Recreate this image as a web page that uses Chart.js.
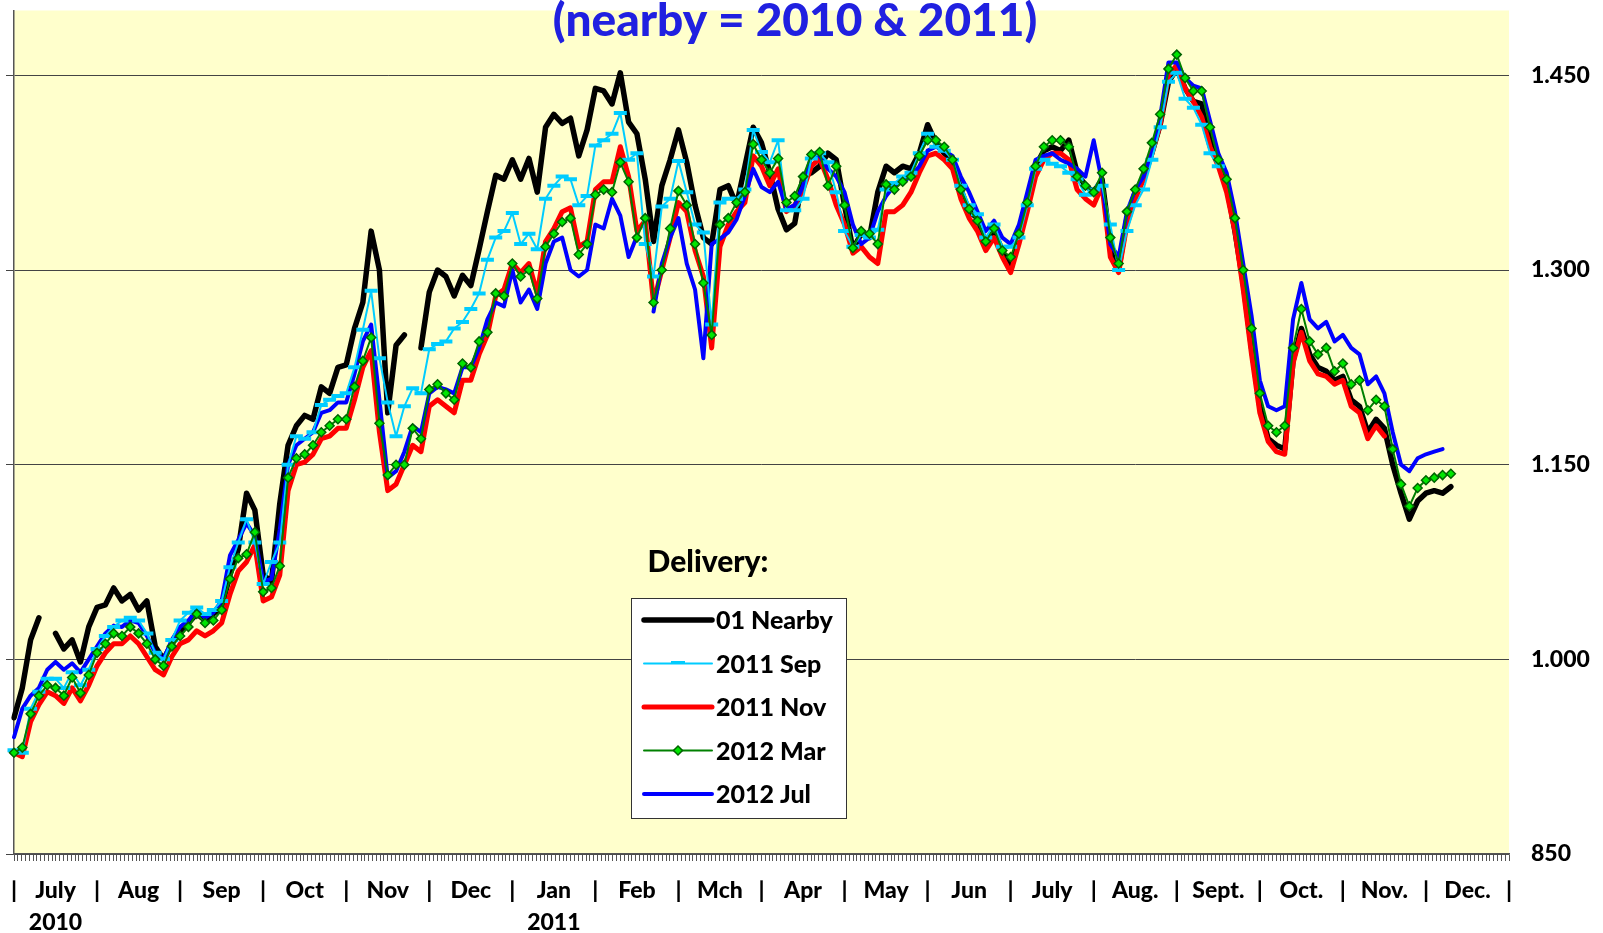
<!DOCTYPE html>
<html>
<head>
<meta charset="utf-8">
<title>nearby = 2010 &amp; 2011</title>
<script src="https://cdn.jsdelivr.net/npm/chart.js@4.4.1/dist/chart.umd.min.js"></script>
<style>
  html, body { margin: 0; padding: 0; background: #fff; }
</style>
</head>
<body>
<canvas id="chart" width="1603" height="933"></canvas>
<script>
// Month labels along the bottom (July 2010 .. Dec 2011)
const monthKeys = ['2010-07','2010-08','2010-09','2010-10','2010-11','2010-12',
                   '2011-01','2011-02','2011-03','2011-04','2011-05','2011-06',
                   '2011-07','2011-08','2011-09','2011-10','2011-11','2011-12'];
const monthLabels = ['July','Aug','Sep','Oct','Nov','Dec','Jan','Feb','Mch','Apr','May','Jun',
                     'July','Aug.','Sept.','Oct.','Nov.','Dec.'];
const yearLabels = { 0: '2010', 6: '2011' };
const stepsPerMonth = 10;   // about two trading days per category
const tradingDays = 392;    // minor tick marks under the axis

const yTicks = [850, 1000, 1150, 1300, 1450];

// series values, one per category step (null = no quote)
const nearby = [955, 978, 1015, 1032, null, 1020, 1008, 1015, 998, 1025,
  1040, 1042, 1055, 1045, 1050, 1038, 1045, 1010, 1000, 1012,
  1020, 1028, 1035, 1030, 1035, 1040, 1065, 1085, 1128, 1115,
  1065, 1060, 1120, 1165, 1180, 1188, 1185, 1210, 1205, 1225,
  1227, 1255, 1275, 1330, 1300, 1190, 1242, 1250, null, 1240,
  1283, 1300, 1295, 1280, 1296, 1288, 1316, 1345, 1373, 1370,
  1385, 1370, 1386, 1360, 1410, 1420, 1413, 1417, 1388, 1408,
  1440, 1438, 1428, 1452, 1414, 1405, 1370, 1322, 1365, 1385,
  1408, 1383, 1350, 1325, 1320, 1362, 1365, 1350, 1380, 1410,
  1398, 1375, 1347, 1331, 1336, 1372, 1375, 1380, 1390, 1385,
  1350, 1316, 1328, 1325, 1360, 1380, 1375, 1380, 1378, 1390,
  1412, 1398, 1390, 1385, 1362, 1345, 1340, 1320, 1330, 1315,
  1300, 1325, 1355, 1380, 1392, 1395, 1392, 1400, 1375, 1365,
  1360, 1370, 1320, 1300, 1340, 1360, 1370, 1390, 1412, 1445,
  1455, 1440, 1430, 1428, 1400, 1385, 1365, 1330, 1290, 1240,
  1195, 1170, 1165, 1162, 1230, 1255, 1235, 1225, 1222, 1215,
  1218, 1200, 1195, 1175, 1185, 1178, 1150, 1128, 1108, 1122,
  1128, 1130, 1128, 1133];

const sep2011 = [930, 928, 962, 975, 985, 985, 978, 990, 980, 992,
  1008, 1018, 1025, 1030, 1032, 1030, 1020, 1005, 1000, 1015,
  1030, 1036, 1040, 1035, 1038, 1045, 1071, 1090, 1108, 1090,
  1058, 1075, 1090, 1150, 1172, 1170, 1175, 1196, 1200, 1203,
  1205, 1225, 1254, 1284, 1232, 1198, 1172, 1195, 1209, 1205,
  1239, 1243, 1245, 1255, 1260, 1270, 1282, 1308, 1325, 1330,
  1344, 1320, 1328, 1316, 1355, 1365, 1372, 1370, 1350, 1357,
  1396, 1400, 1405, 1421, 1385, 1390, 1320, 1295, 1349, 1355,
  1384, 1360, 1335, 1329, 1258, 1352, 1355, 1355, 1362, 1408,
  1391, 1383, 1400, 1346, 1346, 1355, 1386, 1390, 1383, 1360,
  1330, 1318, 1327, 1325, 1331, 1362, 1367, 1372, 1375, 1390,
  1405, 1395, 1392, 1385, 1365, 1350, 1343, 1325, 1335, 1318,
  1318, 1325, 1350, 1378, 1385, 1382, 1380, 1375, 1370, 1358,
  1362, 1365, 1335, 1300, 1330, 1350, 1362, 1385, 1410, 1445,
  1452, 1432, 1425, 1412, 1390, 1380];

const nov2011 = [928, 925, 952, 965, 975, 972, 966, 978, 968, 980,
  995, 1005, 1012, 1012, 1018, 1012, 1002, 992, 988, 1002,
  1012, 1015, 1022, 1018, 1022, 1028, 1050, 1068, 1075, 1088,
  1045, 1048, 1065, 1130, 1150, 1152, 1158, 1170, 1172, 1178,
  1178, 1200, 1225, 1238, 1175, 1130, 1135, 1150, 1165, 1160,
  1195, 1200, 1195, 1190, 1215, 1215, 1235, 1250, 1280, 1285,
  1305, 1298, 1305, 1282, 1322, 1332, 1345, 1348, 1318, 1322,
  1362, 1368, 1368, 1395, 1372, 1330, 1338, 1275, 1300, 1325,
  1352, 1345, 1315, 1295, 1240, 1318, 1335, 1345, 1352, 1388,
  1380, 1365, 1378, 1345, 1350, 1362, 1380, 1386, 1370, 1350,
  1335, 1313, 1318, 1310, 1305, 1345, 1345, 1350, 1360, 1375,
  1388, 1390, 1385, 1378, 1355, 1340, 1330, 1315, 1325, 1310,
  1298, 1320, 1345, 1372, 1385, 1390, 1390, 1385, 1362, 1355,
  1350, 1365, 1310, 1298, 1335, 1355, 1370, 1390, 1412, 1450,
  1458, 1440, 1430, 1418, 1395, 1380, 1360, 1330, 1285, 1235,
  1190, 1168, 1160, 1158, 1228, 1252, 1230, 1220, 1218, 1212,
  1215, 1195, 1190, 1170, 1180, 1172];

const mar2012 = [928, 932, 958, 972, 980, 978, 972, 986, 974, 988,
  1005, 1012, 1020, 1018, 1025, 1020, 1012, 1000, 995, 1010,
  1018, 1025, 1035, 1028, 1030, 1038, 1062, 1078, 1081, 1098,
  1052, 1055, 1072, 1140, 1155, 1158, 1165, 1175, 1180, 1185,
  1185, 1210, 1230, 1248, 1182, 1142, 1150, 1150, 1178, 1170,
  1208, 1212, 1205, 1200, 1228, 1225, 1245, 1252, 1282, 1280,
  1305, 1295, 1300, 1278, 1318, 1328, 1337, 1340, 1312, 1320,
  1358, 1362, 1360, 1383, 1368, 1325, 1340, 1275, 1300, 1332,
  1361, 1350, 1320, 1290, 1250, 1335, 1340, 1352, 1360, 1397,
  1385, 1375, 1386, 1352, 1357, 1372, 1389, 1391, 1365, 1380,
  1350, 1317, 1330, 1328, 1320, 1366, 1362, 1368, 1372, 1388,
  1400, 1400, 1395, 1385, 1362, 1347, 1338, 1322, 1332, 1315,
  1310, 1328, 1352, 1380, 1395, 1400, 1400, 1395, 1372, 1365,
  1360, 1375, 1325, 1305, 1345, 1362, 1378, 1398, 1420, 1455,
  1466, 1448, 1438, 1438, 1410, 1385, 1370, 1340, 1300, 1255,
  1205, 1180, 1175, 1180, 1240, 1270, 1245, 1235, 1240, 1222,
  1228, 1212, 1215, 1192, 1200, 1195, 1162, 1135, 1118, 1132,
  1138, 1140, 1142, 1143];

const jul2012 = [940, 962, 972, 978, 992, 998, 992, 997, 990, 1000,
  1010, 1020, 1026, 1025, 1030, 1028, 1018, 1005, 1000, 1015,
  1025, 1030, 1038, 1032, 1036, 1045, 1080, 1092, 1105, 1095,
  1060, 1062, 1100, 1150, 1165, 1170, 1175, 1190, 1192, 1198,
  1198, 1220, 1245, 1258, 1200, 1140, 1145, 1160, 1180, 1175,
  1205, 1210, 1208, 1205, 1225, 1225, 1240, 1262, 1275, 1272,
  1300, 1275, 1285, 1270, 1305, 1322, 1325, 1300, 1295, 1300,
  1335, 1332, 1355, 1342, 1310, 1326, null, 1268, 1305, 1325,
  1340, 1305, 1285, 1232, 1320, 1324, 1329, 1339, 1357, 1378,
  1364, 1360, 1368, 1347, 1350, 1365, 1388, 1388, 1378, 1372,
  1360, 1335, 1320, 1325, 1345, 1357, 1365, 1368, 1372, 1380,
  1392, 1395, 1392, 1388, 1372, 1360, 1345, 1330, 1338, 1325,
  1320, 1335, 1360, 1385, 1388, 1390, 1385, 1382, 1378, 1372,
  1400, 1368, 1320, 1310, 1345, 1362, 1372, 1390, 1418, 1460,
  1460, 1448, 1442, 1440, 1415, 1390, 1375, 1345, 1305, 1265,
  1215, 1195, 1192, 1195, 1262, 1290, 1262, 1255, 1260, 1245,
  1250, 1240, 1235, 1212, 1218, 1205, 1175, 1150, 1145, 1155,
  1158, 1160, 1162];

// category steps across the 18 months
const categories = [];
monthKeys.forEach(key => {
  for (let s = 0; s < stepsPerMonth; s++) categories.push(key + '/' + s);
});
categories.push('end');

const FONT = 'Lato';

function fmtThousands(v) {
  if (v < 1000) return String(v);
  return Math.floor(v / 1000) + '.' + String(v % 1000).padStart(3, '0');
}

// light yellow plot area
const plotBackground = {
  id: 'plotBackground',
  beforeDraw(chart) {
    const { ctx, chartArea: a } = chart;
    ctx.save();
    ctx.fillStyle = '#FFFFCC';
    ctx.fillRect(a.left, a.top, a.right - a.left, a.bottom - a.top);
    ctx.restore();
  }
};

// title plus the "Delivery:" legend box in the middle of the plot
const titleAndLegend = {
  id: 'titleAndLegend',
  afterDraw(chart) {
    const ctx = chart.ctx;
    ctx.save();
    ctx.textAlign = 'center';
    ctx.textBaseline = 'middle';
    ctx.fillStyle = '#2020E0';
    ctx.font = '900 46px ' + FONT;
    ctx.fillText('(nearby = 2010 & 2011)', 795, 21);

    ctx.fillStyle = '#000';
    ctx.font = '900 30px ' + FONT;
    ctx.fillText('Delivery:', 708, 562);

    const box = { x: 631, y: 598, w: 215, h: 220 };
    ctx.fillStyle = '#fff';
    ctx.fillRect(box.x, box.y, box.w, box.h);
    ctx.strokeStyle = '#333';
    ctx.lineWidth = 1;
    ctx.strokeRect(box.x + 0.5, box.y + 0.5, box.w, box.h);

    const x0 = 644, x1 = 712;
    ctx.font = '900 25px ' + FONT;
    ctx.textAlign = 'left';
    chart.data.datasets.forEach((ds, i) => {
      const y = 620 + i * 43.5;
      ctx.strokeStyle = ds.borderColor;
      ctx.lineWidth = ds.borderWidth;
      ctx.lineCap = 'round';
      ctx.beginPath();
      ctx.moveTo(x0, y);
      ctx.lineTo(x1, y);
      ctx.stroke();
      const mx = (x0 + x1) / 2;
      if (ds.pointStyle === 'line') {
        ctx.lineCap = 'butt';
        ctx.lineWidth = 3;
        ctx.beginPath();
        ctx.moveTo(mx - 7, y - 1);
        ctx.lineTo(mx + 7, y - 1);
        ctx.stroke();
      } else if (ds.pointStyle === 'rectRot') {
        const r = ds.pointRadius;
        ctx.beginPath();
        ctx.moveTo(mx, y - r);
        ctx.lineTo(mx + r, y);
        ctx.lineTo(mx, y + r);
        ctx.lineTo(mx - r, y);
        ctx.closePath();
        ctx.fillStyle = ds.pointBackgroundColor;
        ctx.fill();
        ctx.lineWidth = ds.pointBorderWidth;
        ctx.strokeStyle = ds.pointBorderColor;
        ctx.stroke();
      }
      ctx.fillStyle = '#000';
      ctx.fillText(ds.label, 716, y + 1);
    });
    ctx.restore();
  }
};

const setYTicks = scale => { scale.ticks = yTicks.map(v => ({ value: v })); };

new Chart(document.getElementById('chart'), {
  type: 'line',
  data: {
    labels: categories,
    datasets: [
      { label: '01 Nearby', data: nearby, borderColor: '#000000', borderWidth: 5.5,
        pointRadius: 0, order: 4 },
      { label: '2011 Sep', data: sep2011, borderColor: '#00CCFF', borderWidth: 2,
        pointStyle: 'line', pointRadius: 6.5, pointBorderWidth: 4,
        pointBorderColor: '#00CCFF', pointBackgroundColor: '#00CCFF', order: 1 },
      { label: '2011 Nov', data: nov2011, borderColor: '#FF0000', borderWidth: 5,
        pointRadius: 0, order: 3 },
      { label: '2012 Mar', data: mar2012, borderColor: '#008000', borderWidth: 2,
        pointStyle: 'rectRot', pointRadius: 4.5, pointBorderWidth: 1.5,
        pointBorderColor: '#006400', pointBackgroundColor: '#00E600', order: 0 },
      { label: '2012 Jul', data: jul2012, borderColor: '#0000FF', borderWidth: 4,
        pointRadius: 0, order: 2 }
    ]
  },
  options: {
    responsive: false,
    animation: false,
    layout: { padding: { left: 6, right: 0, top: 6, bottom: 0 } },
    plugins: {
      legend: { display: false },
      title: { display: false },
      tooltip: { enabled: false }
    },
    elements: {
      line: { tension: 0, borderJoinStyle: 'round', borderCapStyle: 'round' }
    },
    scales: {
      // month labels, placed below the minor tick row
      x: {
        type: 'category',
        offset: false,
        weight: 1,
        grid: { display: false },
        border: { display: false },
        ticks: {
          autoSkip: false, maxRotation: 0, minRotation: 0, padding: 5, color: '#000',
          font: { family: FONT, size: 23, weight: '900', lineHeight: 1.42 },
          callback: (value, index) => {
            const m = Math.floor(index / stepsPerMonth);
            const s = index % stepsPerMonth;
            if (s === 0) return '|';
            if (s === stepsPerMonth / 2 && m < monthLabels.length) {
              return yearLabels[m] ? [monthLabels[m], yearLabels[m]] : monthLabels[m];
            }
            return '';
          }
        },
        afterFit: s => { s.height = 72; s.paddingLeft = 0; s.paddingRight = 0; }
      },
      // one small tick per trading day along the axis line
      xDays: {
        type: 'linear',
        position: 'bottom',
        weight: 0,
        min: 0, max: tradingDays,
        grid: { display: true, drawOnChartArea: false, tickLength: 7, color: '#555', lineWidth: 1 },
        border: { display: true, color: '#555', width: 1.5 },
        ticks: { display: false, stepSize: 1, maxTicksLimit: 1000 },
        afterFit: s => { s.height = 7; s.paddingLeft = 0; s.paddingRight = 0; }
      },
      y: {
        position: 'left',
        min: 850, max: 1500,
        afterBuildTicks: setYTicks,
        grid: { color: '#444', lineWidth: 1, tickLength: 8 },
        border: { display: true, color: '#555', width: 1.5 },
        ticks: { display: false }
      },
      yRight: {
        position: 'right',
        min: 850, max: 1500,
        afterBuildTicks: setYTicks,
        grid: { display: false },
        border: { display: false },
        ticks: {
          padding: 14, color: '#000',
          font: { family: FONT, size: 23, weight: '900' },
          callback: v => fmtThousands(v)
        },
        afterFit: s => { s.width = 94; s.paddingTop = 0; s.paddingBottom = 0; }
      }
    }
  },
  plugins: [plotBackground, titleAndLegend]
});
</script>
</body>
</html>
